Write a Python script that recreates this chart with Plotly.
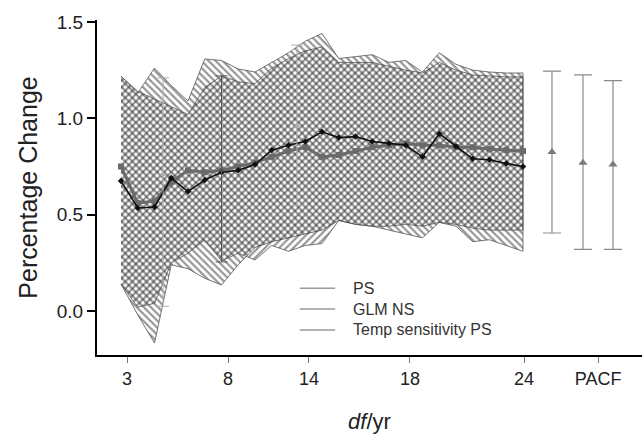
import plotly.graph_objects as go

# ---------------- data ----------------
# 25 equally spaced model fits between df=3 and df=24 (x = fit index)
fit_idx = list(range(25))

band_a_hi = [1.218, 1.131, 1.261, 1.17, 1.09, 1.308, 1.30, 1.256, 1.24, 1.29, 1.34, 1.40,
             1.44, 1.31, 1.32, 1.33, 1.29, 1.30, 1.24, 1.34, 1.28, 1.25, 1.24, 1.235, 1.235]
band_a_lo = [0.14, -0.02, -0.166, 0.24, 0.22, 0.17, 0.135, 0.24, 0.33, 0.36, 0.38, 0.40,
             0.42, 0.47, 0.45, 0.44, 0.42, 0.40, 0.38, 0.46, 0.44, 0.36, 0.37, 0.34, 0.31]
band_b_hi = [1.218, 1.14, 1.10, 1.06, 1.02, 1.16, 1.22, 1.19, 1.18, 1.26, 1.31, 1.35,
             1.37, 1.29, 1.29, 1.29, 1.27, 1.25, 1.235, 1.29, 1.25, 1.225, 1.22, 1.215, 1.215]
band_b_lo = [0.14, 0.02, 0.04, 0.25, 0.30, 0.37, 0.26, 0.30, 0.265, 0.34, 0.31, 0.34,
             0.35, 0.47, 0.45, 0.44, 0.44, 0.45, 0.44, 0.46, 0.45, 0.43, 0.42, 0.42, 0.42]

ps_est = [0.75, 0.56, 0.57, 0.67, 0.73, 0.72, 0.73, 0.75, 0.77, 0.80, 0.83, 0.85,
          0.80, 0.81, 0.83, 0.85, 0.86, 0.87, 0.86, 0.86, 0.85, 0.85, 0.84, 0.835, 0.83]
glm_est = [0.675, 0.535, 0.54, 0.69, 0.62, 0.68, 0.72, 0.73, 0.76, 0.835, 0.86, 0.88,
           0.93, 0.90, 0.905, 0.88, 0.87, 0.86, 0.80, 0.92, 0.855, 0.79, 0.785, 0.765, 0.75]

# selected-df estimates inside the band
sel_pos = [2.51, 6.0, 10.51]
sel_est = [0.71, 0.73, 0.96]
sel_hi = [1.21, 1.22, 1.38]
sel_lo = [0.025, 0.255, 0.55]

# PACF estimates on the right
pacf_pos = [25.73, 27.58, 29.37]
pacf_est = [0.825, 0.77, 0.76]
pacf_hi = [1.245, 1.225, 1.195]
pacf_lo = [0.405, 0.32, 0.32]

tick_pos = [0.36, 6.39, 11.22, 17.25, 24.06, 28.48]
tick_text = ["3", "8", "14", "18", "24", "PACF"]

legend_names = ["PS", "GLM NS", "Temp sensitivity PS"]
legend_rows = [0.199, 0.137, 0.075]   # paper y of legend rows

# ---------------- figure ----------------
fig = go.Figure()

def band(hi, lo, shape):
    xs = fit_idx + fit_idx[::-1]
    ys = hi + lo[::-1]
    fig.add_trace(go.Scatter(
        x=xs, y=ys, mode="lines", fill="toself",
        line=dict(color="#555555", width=0.8),
        fillcolor="rgba(0,0,0,0)",
        fillpattern=dict(shape=shape, fgcolor="#2a2a2a", bgcolor="rgba(0,0,0,0)",
                         size=5, solidity=0.42),
        showlegend=False, hoverinfo="skip"))

band(band_a_hi, band_a_lo, "\\")
band(band_b_hi, band_b_lo, "/")

fig.add_trace(go.Scatter(
    x=fit_idx, y=ps_est, mode="lines+markers",
    line=dict(color="#6a6a6a", width=3),
    marker=dict(symbol="square", size=6, color="#6a6a6a"),
    showlegend=False))
fig.add_trace(go.Scatter(
    x=fit_idx, y=glm_est, mode="lines+markers",
    line=dict(color="#111111", width=1.6),
    marker=dict(symbol="diamond", size=5, color="#111111"),
    showlegend=False))

sel_colors = ["#b0b0b0", "#555555", "#b0b0b0"]
for i in range(len(sel_pos)):
    fig.add_trace(go.Scatter(
        x=[sel_pos[i]], y=[sel_est[i]], mode="markers",
        marker=dict(symbol="triangle-up", size=6, color=sel_colors[i]),
        error_y=dict(type="data", symmetric=False,
                     array=[sel_hi[i] - sel_est[i]],
                     arrayminus=[sel_est[i] - sel_lo[i]],
                     color=sel_colors[i], thickness=1, width=6),
        showlegend=False))

fig.add_trace(go.Scatter(
    x=pacf_pos, y=pacf_est, mode="markers",
    marker=dict(symbol="triangle-up", size=8, color="#7a7a7a"),
    error_y=dict(type="data", symmetric=False,
                 array=[h - e for h, e in zip(pacf_hi, pacf_est)],
                 arrayminus=[e - l for e, l in zip(pacf_est, pacf_lo)],
                 color="#8a8a8a", thickness=1.2, width=9),
    showlegend=False))

# legend (drawn as key lines + text for tight row spacing)
for name, ry in zip(legend_names, legend_rows):
    fig.add_shape(type="line", xref="paper", yref="paper",
                  x0=0.372, x1=0.437, y0=ry, y1=ry,
                  line=dict(color="#9a9a9a", width=1.5))
    fig.add_annotation(text=name, xref="paper", yref="paper",
                       x=0.466, y=ry, xanchor="left", yanchor="middle",
                       showarrow=False, font=dict(size=16, color="#333333"))

fig.update_layout(
    width=642, height=434,
    margin=dict(l=97, r=0, t=20, b=79),
    paper_bgcolor="white", plot_bgcolor="white",
    font=dict(family="Liberation Sans, Arial, sans-serif", color="#222222", size=15),
    showlegend=False,
    xaxis=dict(range=[-1.433, 31.104], showgrid=False, zeroline=False,
               showline=True, linecolor="black", linewidth=2,
               ticks="outside", ticklen=6, tickcolor="#777777", tickwidth=1,
               tickmode="array", tickvals=tick_pos, ticktext=tick_text,
               tickfont=dict(size=18),
               title=dict(text="<i>df</i>/yr", font=dict(size=22), standoff=26)),
    yaxis=dict(range=[-0.228, 1.51], showgrid=False, zeroline=False,
               showline=True, linecolor="black", linewidth=2,
               ticks="outside", ticklen=8, tickcolor="black", tickwidth=2,
               tickvals=[0.0, 0.5, 1.0, 1.5], tickformat=".1f",
               tickfont=dict(size=19),
               title=dict(text="Percentage Change", font=dict(size=25), standoff=12)),
)

fig.write_html("out.html")
